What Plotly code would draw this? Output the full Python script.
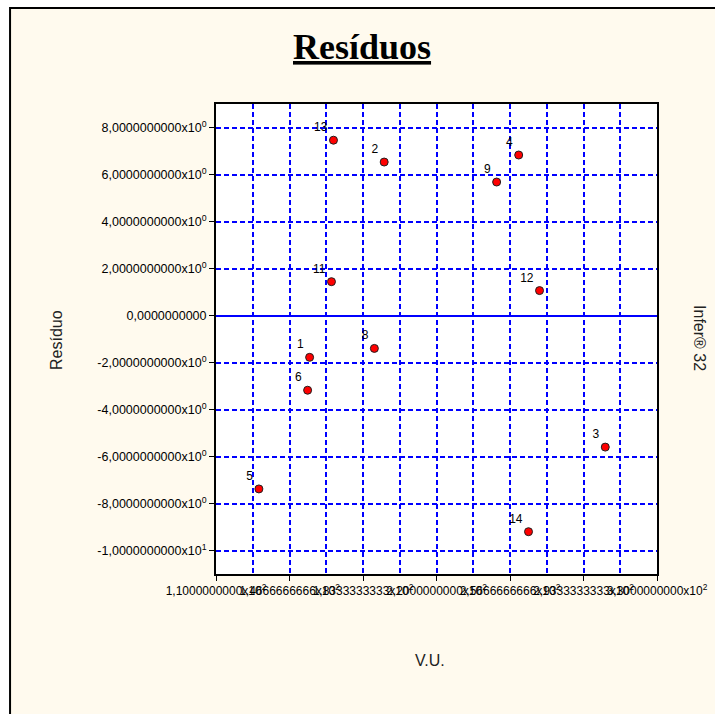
import plotly.graph_objects as go

# ---- data ----
point_ids = ["1", "2", "3", "4", "5", "6", "8", "9", "11", "12", "13", "14"]
vu_values = [156.7, 193.9, 304.2, 261.0, 131.4, 155.7, 189.0, 250.0, 167.6, 271.4, 168.6, 265.9]
residuals = [-1.78, 6.53, -5.60, 6.83, -7.38, -3.18, -1.40, 5.68, 1.44, 1.06, 7.46, -9.20]

x_tick_vals = [110, 146.6667, 183.3333, 220, 256.6667, 293.3333, 330]
x_tick_text = ["1,1000000000x10<sup>2</sup>", "1,4666666666x10<sup>2</sup>",
               "1,8333333333x10<sup>2</sup>", "2,2000000000x10<sup>2</sup>",
               "2,5666666666x10<sup>2</sup>", "2,9333333333x10<sup>2</sup>",
               "3,3000000000x10<sup>2</sup>"]
x_minor_vals = [128.3333, 165, 201.6667, 238.3333, 275, 311.6667]

y_tick_vals = [8, 6, 4, 2, 0, -2, -4, -6, -8, -10]
y_tick_text = ["8,0000000000x10<sup>0</sup>", "6,0000000000x10<sup>0</sup>",
               "4,0000000000x10<sup>0</sup>", "2,0000000000x10<sup>0</sup>",
               "0,0000000000",
               "-2,0000000000x10<sup>0</sup>", "-4,0000000000x10<sup>0</sup>",
               "-6,0000000000x10<sup>0</sup>", "-8,0000000000x10<sup>0</sup>",
               "-1,0000000000x10<sup>1</sup>"]

CREAM = "#FFFAEE"
GRID = "#0000FF"
SANS = "Liberation Sans, Arial, sans-serif"

fig = go.Figure()
fig.add_trace(go.Scatter(
    x=vu_values, y=residuals, mode="markers+text",
    text=point_ids, textposition="top left",
    textfont=dict(family=SANS, size=12, color="#000000"),
    marker=dict(color="#FF0000", size=8, line=dict(color="#202020", width=1)),
    showlegend=False, cliponaxis=False,
))

fig.update_layout(
    width=715, height=714,
    margin=dict(l=216, r=58, t=104, b=140, autoexpand=False),
    paper_bgcolor="#FFFFFF",
    plot_bgcolor="#FFFFFF",
    font=dict(family=SANS, size=12, color="#000000"),
    xaxis=dict(
        range=[110, 330], tickmode="array", tickvals=x_tick_vals, ticktext=x_tick_text,
        tickangle=0, ticks="outside", ticklen=5, tickcolor="#000000", automargin=False,
        showgrid=True, gridcolor=GRID, gridwidth=1.5, griddash="5px,3px",
        minor=dict(tickvals=x_minor_vals, showgrid=True, gridcolor=GRID,
                   gridwidth=1.5, griddash="5px,3px", ticks=""),
        showline=True, linecolor="#000000", linewidth=2, mirror=True,
        zeroline=False, tickfont=dict(family=SANS, size=12, color="#000000"),
    ),
    yaxis=dict(
        range=[-11, 9], tickmode="array", tickvals=y_tick_vals, ticktext=y_tick_text,
        ticks="outside", ticklen=5, tickcolor="#000000", automargin=False,
        showgrid=True, gridcolor=GRID, gridwidth=1.5, griddash="5px,3px",
        showline=True, linecolor="#000000", linewidth=2, mirror=True,
        zeroline=True, zerolinecolor=GRID, zerolinewidth=1.5,
        tickfont=dict(family=SANS, size=12.5, color="#000000"),
    ),
    shapes=[
        dict(type="rect", xref="paper", yref="paper", x0=-0.467, x1=2.0, y0=-1.0, y1=1.204,
             fillcolor=CREAM, line=dict(color="#000000", width=2), layer="below"),
        dict(type="rect", xref="x domain", yref="y domain", x0=0, x1=1, y0=0, y1=1,
             fillcolor="#FFFFFF", line=dict(width=0), layer="below"),
    ],
    annotations=[
        dict(text="<b><u>Resíduos</u></b>", xref="paper", yref="paper", x=0.331, y=1.121,
             xanchor="center", yanchor="middle", showarrow=False,
             font=dict(family="Liberation Serif, Times New Roman, serif", size=36, color="#000000")),
        dict(text="Resíduo", xref="paper", yref="paper", x=-0.3605, y=0.498, textangle=-90,
             xanchor="center", yanchor="middle", showarrow=False,
             font=dict(family=SANS, size=16, color="#222222")),
        dict(text="V.U.", xref="paper", yref="paper", x=0.485, y=-0.183,
             xanchor="center", yanchor="middle", showarrow=False,
             font=dict(family=SANS, size=16, color="#222222")),
        dict(text="Infer® 32", xref="paper", yref="paper", x=1.0975, y=0.502, textangle=90,
             xanchor="center", yanchor="middle", showarrow=False,
             font=dict(family=SANS, size=16, color="#222222")),
    ],
)

fig.write_html("out.html")
